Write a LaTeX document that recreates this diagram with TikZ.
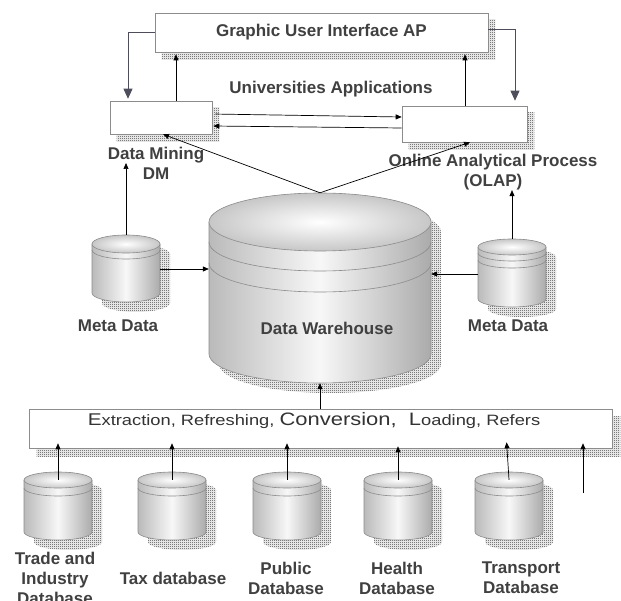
\documentclass[tikz,border=0pt]{standalone}
\usepackage{fontspec}
\usepackage{graphicx}
\setmainfont{Liberation Sans}
\usetikzlibrary{arrows.meta,patterns,backgrounds,calc}

% fine 1pt checkerboard used for the drop shadows
\pgfdeclarepatternformonly{dither}{\pgfqpoint{0pt}{0pt}}{\pgfqpoint{2pt}{2pt}}{\pgfqpoint{2pt}{2pt}}{%
  \pgfpathrectangle{\pgfqpoint{0pt}{0pt}}{\pgfqpoint{1pt}{1pt}}%
  \pgfpathrectangle{\pgfqpoint{1pt}{1pt}}{\pgfqpoint{1pt}{1pt}}%
  \pgfusepath{fill}}

\definecolor{labelgray}{HTML}{404040}
\definecolor{etlgray}{HTML}{333333}
\definecolor{rimgray}{HTML}{8C8C8C}
\definecolor{guiblue}{HTML}{4D4D5C}

\tikzset{
  lbl/.style={font=\bfseries\fontsize{17}{20}\selectfont, text=labelgray, align=center, inner sep=0},
  box/.style={draw=rimgray, fill=white, inner sep=0, line width=0.6pt},
  dropshade/.style={pattern=dither, pattern color=black!80},
  drumline/.style={draw=rimgray, line width=0.6pt},
  arr/.style={-{Triangle[length=6pt,width=5pt]}, line width=0.7pt},
  guiarr/.style={guiblue, -{Triangle[length=10pt,width=9pt]}, line width=0.8pt},
}

% database drum: name, cx, cy (top ellipse centre), rx, ry, side height, band offsets, shadow offset
\newcommand{\dbdrum}[8]{%
  \path[dropshade, xshift=#8pt, yshift=-#8pt]
    ({#2-#4},{#3}) -- ({#2-#4},{#3+#6})
    arc[start angle=180,end angle=360,x radius=#4pt,y radius=#5pt]
    -- ({#2+#4},{#3}) arc[start angle=0,end angle=180,x radius=#4pt,y radius=#5pt] -- cycle;
  \shade[left color=black!27, right color=black!33, middle color=black!3]
    ({#2-#4},{#3}) -- ({#2-#4},{#3+#6})
    arc[start angle=180,end angle=360,x radius=#4pt,y radius=#5pt]
    -- ({#2+#4},{#3}) arc[start angle=0,end angle=180,x radius=#4pt,y radius=#5pt] -- cycle;
  \draw[drumline]
    ({#2-#4},{#3}) -- ({#2-#4},{#3+#6})
    arc[start angle=180,end angle=360,x radius=#4pt,y radius=#5pt]
    -- ({#2+#4},{#3});
  \shade[inner color=white, outer color=black!22] (#2,#3) ellipse[x radius=#4pt, y radius=#5pt];
  \draw[drumline] (#2,#3) ellipse[x radius=#4pt, y radius=#5pt];
  \foreach \b in {#7}{%
    \draw[drumline] ({#2-#4},{#3+\b}) arc[start angle=180,end angle=360,x radius=#4pt,y radius=#5pt];}
  \node[inner sep=0, minimum width={2*#4pt}, minimum height={#6pt+2*#5pt}] (#1) at (#2,{#3+#6/2}) {};
}

\begin{document}
\begin{tikzpicture}[x=1pt,y=-1pt]
\useasboundingbox (0,0) rectangle (621,601);

% application layer boxes
\node[box, minimum width=333pt, minimum height=39pt,
      font=\bfseries\fontsize{17}{20}\selectfont, text=labelgray] (gui) at (321.5,32.5) {Graphic User Interface AP};
\node[box, minimum width=102pt, minimum height=33pt] (dm) at (161,117.5) {};
\node[box, minimum width=125pt, minimum height=36pt] (olap) at (464.5,124) {};
\node[box, minimum width=583pt, minimum height=39pt] (etl) at (320.5,428.5) {};

\begin{scope}[on background layer]
  \foreach \n/\d in {gui/7, dm/7, olap/7, etl/8}
    \path[dropshade] ([shift={(\d pt,-\d pt)}]\n.north west) rectangle ([shift={(\d pt,-\d pt)}]\n.south east);
\end{scope}

\node[lbl] (uni) at (331,89) {Universities Applications};
\node[lbl] (dmlbl) at (156,163) {Data Mining\\DM};
\node[lbl] (olaplbl) at (493,172) {Online Analytical Process\\(OLAP)};

% warehouse and metadata stores
\dbdrum{dw}{320}{222}{111}{29}{132}{20,41}{10}
\dbdrum{lm}{126}{244}{34}{9}{49}{6}{10}
\dbdrum{rm}{512}{247}{34}{8}{52}{6,13}{10}
\node[lbl] (dwlbl) at (327,328) {Data Warehouse};
\node[lbl] (lmlbl) at (118,326) {Meta Data};
\node[lbl] (rmlbl) at (508,326) {Meta Data};

% source databases
\dbdrum{t1}{58}{480}{34}{8}{52}{8}{10}
\dbdrum{t2}{172}{480}{34}{8}{52}{8}{10}
\dbdrum{t3}{287}{480}{34}{8}{52}{8}{10}
\dbdrum{t4}{398}{480}{34}{8}{52}{8}{10}
\dbdrum{t5}{509}{480}{34}{8}{52}{8}{10}
\node[lbl] (t1lbl) at (55,578) {Trade and\\Industry\\Database};
\node[lbl] (t2lbl) at (173,578) {Tax database};
\node[lbl] (t3lbl) at (286,578) {Public\\Database};
\node[lbl] (t4lbl) at (397,578) {Health\\Database};
\node[lbl] (t5lbl) at (521,578) {Transport\\Database};

\node[font=\fontsize{15}{18}\selectfont, text=etlgray, inner sep=0] (etltxt) at (314,421)
  {\scalebox{1.22}[1]{{\fontsize{17}{18}\selectfont E}xtraction, Refreshing, {\fontsize{18}{18}\selectfont Conversion,\ \ L}oading, Refers}};

% GUI feedback arrows
\draw[guiarr, shorten >=2pt] (gui.west) -| (dm.north -| 128,0);
\draw[guiarr, shorten >=5pt] ([yshift=3pt]gui.east) -| (olap.north -| 515,0);

% application arrows
\draw[arr, shorten >=2pt] (dm.north -| 176,0) -- (gui.south -| 176,0);
\draw[arr, shorten >=2pt] (olap.north -| 465,0) -- (gui.south -| 465,0);
\draw[arr, shorten <=3pt] (dm.east |- 0,114) -- (olap.west |- 0,117);
\draw[arr, shorten >=1pt] (olap.west |- 0,128) -- (dm.east |- 0,126);
\draw[arr] (dw.north) -- (dm.south -| 163,0);
\draw[arr] (dw.north) -- (olap.south -| 470,0);

% metadata arrows
\draw[arr] (lm.north) -- (lm.north |- dmlbl.center);
\draw[arr] (rm.north) -- (rm.north |- olaplbl.south);
\draw[arr] (lm.east |- 0,269) -- (dw.west |- 0,269);
\draw[arr] (rm.west |- 0,274) -- (dw.east |- 0,274);

% loading into the warehouse
\draw[arr] (etl.north -| dw.south) -- (dw.south);
\foreach \t in {t1,t2,t3}
  \draw[arr, shorten >=-5pt] ([yshift=-8pt]\t.north) -- (\t.north |- etl.south);
\draw[arr, shorten >=-2pt] ([yshift=-8pt]t4.north) -- (t4.north |- etl.south);
\draw[arr, shorten >=-6pt] ([yshift=-8pt]t5.north) -- ([xshift=-2pt]t5.north |- etl.south);
\coordinate (loose) at (583,493);
\draw[arr, shorten >=-5pt] (loose) -- (loose |- etl.south);
\end{tikzpicture}
\end{document}
